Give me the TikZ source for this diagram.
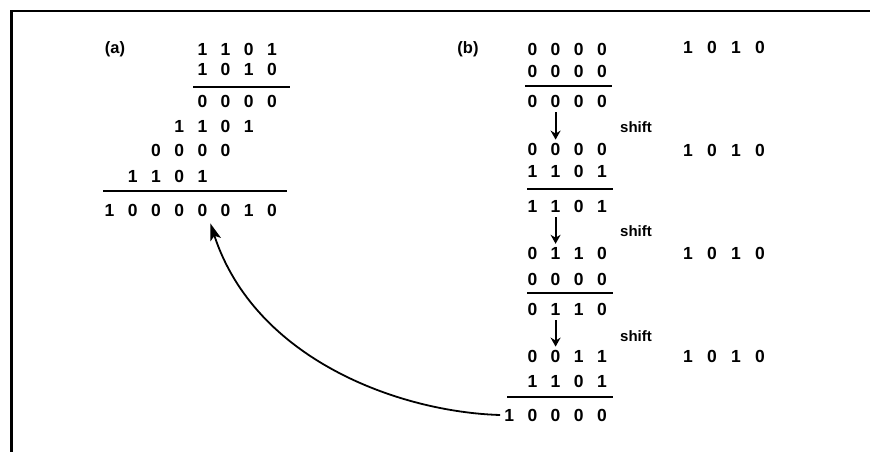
\documentclass[tikz,border=0pt]{standalone}
\usepackage{fontspec}
\setmainfont{Liberation Sans}
\usetikzlibrary{arrows.meta}
\newcommand\bitrow[5]{% name, left x, y, spacing, digits
  \foreach \d [count=\i from 0] in {#5} {\node[dig] (#1-\i) at ({#2+#4*\i},#3) {\d};}}
\tikzset{
  dig/.style={inner sep=0pt, font=\fontsize{17.5}{17.5}\selectfont\bfseries},
  lbl/.style={inner sep=0pt, font=\fontsize{16.5}{16.5}\selectfont\bfseries},
  shiftlbl/.style={inner sep=0pt, font=\fontsize{15}{15}\selectfont\bfseries},
  rule/.style={line width=1.8pt},
  frame/.style={line width=2.4pt},
  downarrow/.style={line width=1.9pt,-{Stealth[length=9pt,width=10pt]}},
  curvearrow/.style={line width=1.8pt,-{Stealth[length=17pt,width=11pt,inset=4pt]}}
}
\begin{document}
\begin{tikzpicture}[x=1pt,y=-1pt]
\useasboundingbox (0,0) rectangle (870,452);
% frame
\draw[frame] (11.5,452) -- (11.5,10.8) -- (870,10.8);
% (a)
\node[lbl] (la) at (115,49) {(a)};
\bitrow{a1}{202.4}{49}{23.2}{1,1,0,1}
\bitrow{a2}{202.4}{69}{23.2}{1,0,1,0}
\draw[rule] (193,87) -- (290,87);
\bitrow{a3}{202.4}{101}{23.2}{0,0,0,0}
\bitrow{a4}{179.2}{126}{23.2}{1,1,0,1}
\bitrow{a5}{156}{150}{23.2}{0,0,0,0}
\bitrow{a6}{132.8}{176}{23.2}{1,1,0,1}
\draw[rule] (103,191) -- (287,191);
\bitrow{a7}{109.6}{210}{23.2}{1,0,0,0,0,0,1,0}
% (b)
\node[lbl] (lb) at (468,49) {(b)};
\bitrow{b1}{532.4}{49}{23.2}{0,0,0,0}
\bitrow{b2}{532.4}{71}{23.2}{0,0,0,0}
\draw[rule] (525,86) -- (612,86);
\bitrow{b3}{532.4}{101}{23.2}{0,0,0,0}
\bitrow{b4}{532.4}{149}{23.2}{0,0,0,0}
\bitrow{b5}{532.4}{171}{23.2}{1,1,0,1}
\draw[rule] (527,189) -- (613,189);
\bitrow{b6}{532.4}{206}{23.2}{1,1,0,1}
\bitrow{b7}{532.4}{253}{23.2}{0,1,1,0}
\bitrow{b8}{532.4}{279}{23.2}{0,0,0,0}
\draw[rule] (527,293) -- (613,293);
\bitrow{b9}{532.4}{309}{23.2}{0,1,1,0}
\bitrow{b10}{532.4}{356}{23.2}{0,0,1,1}
\bitrow{b11}{532.4}{381}{23.2}{1,1,0,1}
\draw[rule] (507,397) -- (613,397);
\bitrow{b12}{509.2}{415}{23.2}{1,0,0,0,0}
% multiplier column
\bitrow{m1}{688}{47}{24}{1,0,1,0}
\bitrow{m2}{688}{150}{24}{1,0,1,0}
\bitrow{m3}{688}{253}{24}{1,0,1,0}
\bitrow{m4}{688}{356}{24}{1,0,1,0}
% shift labels
\node[shiftlbl] (s1) at (636,127) {shift};
\node[shiftlbl] (s2) at (636,231) {shift};
\node[shiftlbl] (s3) at (636,336) {shift};
% shift arrows
\draw[downarrow] ([yshift=-5pt]b3-1.south) -- ([yshift=3pt]b4-1.north);
\draw[downarrow] ([yshift=-5pt]b6-1.south) -- ([yshift=3pt]b7-1.north);
\draw[downarrow] ([yshift=-5pt]b9-1.south) -- ([yshift=3pt]b10-1.north);
% curved arrow
\draw[curvearrow] ([xshift=-4pt]b12-0.west) .. controls (400,412) and (255,360) .. ([xshift=8pt,yshift=-7pt]a7-4.south);
\end{tikzpicture}
\end{document}
